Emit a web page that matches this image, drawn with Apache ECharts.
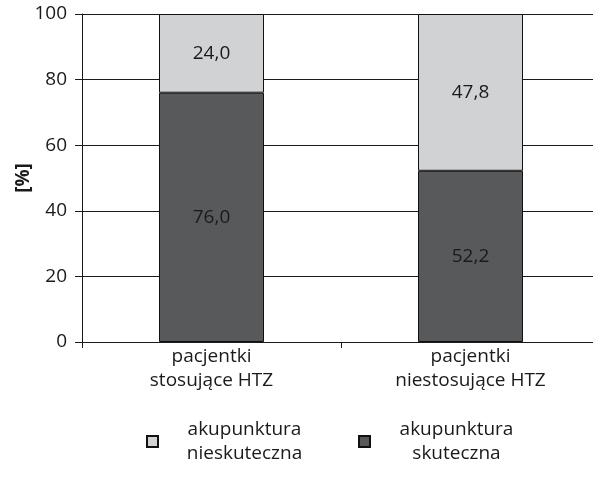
<!DOCTYPE html>
<html>
<head>
<meta charset="utf-8">
<script src="https://cdn.jsdelivr.net/npm/echarts@6/dist/echarts.min.js"></script>
<style>
  html, body { margin: 0; padding: 0; background: #fff; overflow: hidden; }
  #chart-container { width: 600px; height: 491px; }
</style>
</head>
<body>
<div id="chart-container"></div>
<script>
var dom = document.getElementById('chart-container');
var myChart = echarts.init(dom, null, { renderer: 'canvas' });

// dane
const categories = ['pacjentki\nstosujące HTZ', 'pacjentki\nniestosujące HTZ'];
const skuteczna = [76.0, 52.2];
const nieskuteczna = [24.0, 47.8];
const yTicks = [0, 20, 40, 60, 80, 100];

const FONT = 'Open Sans';
const FS = 19;
const DARK = '#58595b';
const LIGHT = '#d1d2d4';
const INK = '#1a1a1a';

function fmt(v) {
  return v.toFixed(1).replace('.', ',');
}

var option = {
  animation: false,
  textStyle: { fontFamily: FONT },
  grid: {
    left: 82,
    top: 14,
    bottom: 149,
    right: 0,
    containLabel: false,
    outerBoundsMode: 'none'
  },
  legend: {
    left: 141,
    top: 415,
    itemWidth: 11,
    itemHeight: 11,
    itemGap: 32,
    icon: 'rect',
    data: ['akupunktura nieskuteczna', 'akupunktura skuteczna'],
    formatter: function(name) {
      const parts = name.split(' ');
      return '{a|' + parts[0] + '}\n{a|' + parts[1] + '}';
    },
    textStyle: {
      rich: {
        a: { width: 163, align: 'center', fontSize: FS, lineHeight: 24, color: INK, fontFamily: FONT }
      }
    }
  },
  xAxis: {
    type: 'category',
    data: categories,
    axisLine: { lineStyle: { color: INK, width: 1 } },
    axisTick: { show: true, length: 6, lineStyle: { color: INK } },
    axisLabel: { color: INK, fontSize: FS, lineHeight: 24, margin: 3, fontFamily: FONT }
  },
  yAxis: {
    type: 'value',
    min: 0,
    max: 100,
    interval: 20,
    name: '[%]',
    nameLocation: 'middle',
    nameGap: 49,
    nameRotate: 90,
    nameMoveOverlap: false,
    nameTextStyle: { color: INK, fontSize: FS, fontWeight: 'bold', fontFamily: FONT },
    axisLine: { show: true, lineStyle: { color: INK, width: 1 } },
    axisTick: { show: true, length: 7, lineStyle: { color: INK } },
    axisLabel: {
      color: INK, fontSize: FS, margin: 15, fontFamily: FONT,
      formatter: function(v) { return yTicks.indexOf(v) >= 0 ? String(v) : ''; }
    },
    splitLine: { show: true, lineStyle: { color: INK, width: 1 } }
  },
  series: [
    {
      name: 'akupunktura skuteczna',
      type: 'bar',
      stack: 'total',
      barWidth: 105,
      data: skuteczna,
      itemStyle: { color: DARK, borderColor: '#111', borderWidth: 1 },
      label: {
        show: true, position: 'inside', color: INK, fontSize: FS, fontFamily: FONT,
        formatter: function(p) { return fmt(p.value); }
      }
    },
    {
      name: 'akupunktura nieskuteczna',
      type: 'bar',
      stack: 'total',
      barWidth: 105,
      data: nieskuteczna,
      itemStyle: { color: LIGHT, borderColor: '#111', borderWidth: 1 },
      label: {
        show: true, position: 'inside', color: INK, fontSize: FS, fontFamily: FONT,
        formatter: function(p) { return fmt(p.value); }
      }
    }
  ]
};

myChart.setOption(option);
window.addEventListener('resize', myChart.resize);
</script>
</body>
</html>
